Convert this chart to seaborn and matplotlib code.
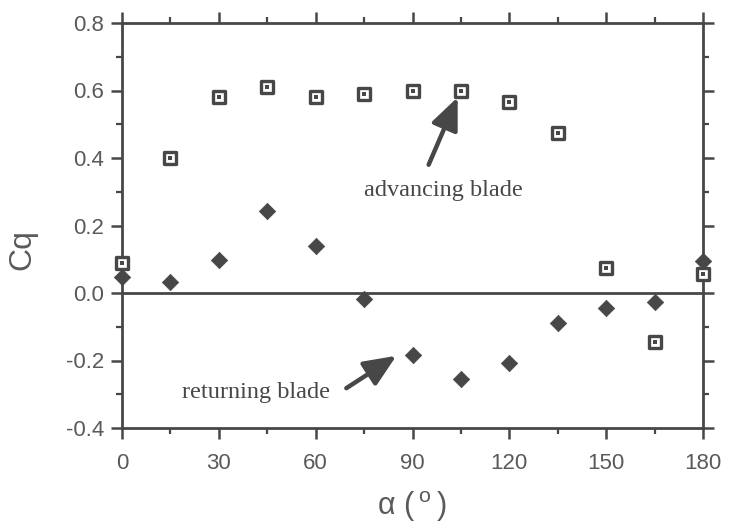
import matplotlib
matplotlib.use("Agg")
import matplotlib.pyplot as plt
import seaborn as sns
import pandas as pd
from matplotlib.ticker import MultipleLocator

# ---- data ----
alpha = [0, 15, 30, 45, 60, 75, 90, 105, 120, 135, 150, 165, 180]
cq_advancing = [0.09, 0.40, 0.58, 0.61, 0.58, 0.59, 0.60, 0.60, 0.565, 0.475, 0.075, -0.145, 0.055]
cq_returning = [0.048, 0.034, 0.098, 0.242, 0.14, -0.019, -0.185, -0.255, -0.207, -0.09, -0.044, -0.026, 0.095]
x_ticks = [0, 30, 60, 90, 120, 150, 180]
y_ticks = [-0.4, -0.2, 0.0, 0.2, 0.4, 0.6, 0.8]
y_tick_labels = ["-0.4", "-0.2", "0.0", "0.2", "0.4", "0.6", "0.8"]

adv = pd.DataFrame({"alpha": alpha, "Cq": cq_advancing})
ret = pd.DataFrame({"alpha": alpha, "Cq": cq_returning})

sns.set_style("ticks")
plt.rcParams["font.family"] = ["Liberation Sans", "DejaVu Sans"]
plt.rcParams["mathtext.fontset"] = "custom"
plt.rcParams["mathtext.rm"] = "Liberation Sans"

DARK = "#474747"
TXT = "#5a5a5a"

fig = plt.figure(figsize=(7.35, 5.26), dpi=100)
ax = fig.add_axes([122 / 735, 1 - 428 / 526, 581 / 735, 405 / 526])

ax.axhline(0, color=DARK, lw=2.0, zorder=1)

sns.scatterplot(data=ret, x="alpha", y="Cq", marker="D", s=70, color=DARK,
                edgecolor=DARK, linewidth=0.5, ax=ax, clip_on=False, zorder=3)
sns.scatterplot(data=adv, x="alpha", y="Cq", marker="s", s=80, color="white",
                edgecolor=DARK, linewidth=2.4, ax=ax, clip_on=False, zorder=4)
sns.scatterplot(data=adv, x="alpha", y="Cq", marker="s", s=5, color=DARK,
                edgecolor=DARK, linewidth=0, ax=ax, clip_on=False, zorder=5)

ax.set_xlim(0, 180)
ax.set_ylim(-0.4, 0.8)
ax.set_xticks(x_ticks)
ax.set_yticks(y_ticks)
ax.set_yticklabels(y_tick_labels)
ax.xaxis.set_minor_locator(MultipleLocator(15))
ax.yaxis.set_minor_locator(MultipleLocator(0.1))

for sp in ax.spines.values():
    sp.set_visible(True)
    sp.set_color(DARK)
    sp.set_linewidth(2.0)

ax.tick_params(which="both", direction="out", color=DARK, top=True, right=True,
               labeltop=False, labelright=False)
ax.tick_params(which="major", length=8, width=1.8, labelsize=16, labelcolor=TXT)
ax.tick_params(which="minor", length=4.5, width=1.6)
ax.tick_params(axis="x", which="major", pad=10)
ax.tick_params(axis="y", which="major", pad=5)

ax.set_xlabel(r"α ($\,^{\mathrm{o}}\,$)", fontsize=22, color=TXT)
ax.set_ylabel("Cq", fontsize=23, color=TXT)
ax.xaxis.set_label_coords(0.499, -0.152)
ax.yaxis.set_label_coords(-0.146, 0.44)

serif = ["Liberation Serif", "DejaVu Serif"]
arrow = dict(arrowstyle="-|>,head_length=0.65,head_width=0.28", mutation_scale=30,
             lw=3.2, color=DARK, shrinkA=0, shrinkB=0)
ax.annotate("", xy=(104.0, 0.58), xytext=(95.0, 0.38), arrowprops=arrow, zorder=6)
ax.annotate("", xy=(85.0, -0.186), xytext=(69.5, -0.282), arrowprops=arrow, zorder=6)
ax.text(99.5, 0.305, "advancing blade", family=serif, fontsize=17.5, color=DARK,
        ha="center", va="center")
ax.text(41.5, -0.296, "returning blade", family=serif, fontsize=17.5, color=DARK,
        ha="center", va="center")

fig.savefig("out.png", dpi=100)
